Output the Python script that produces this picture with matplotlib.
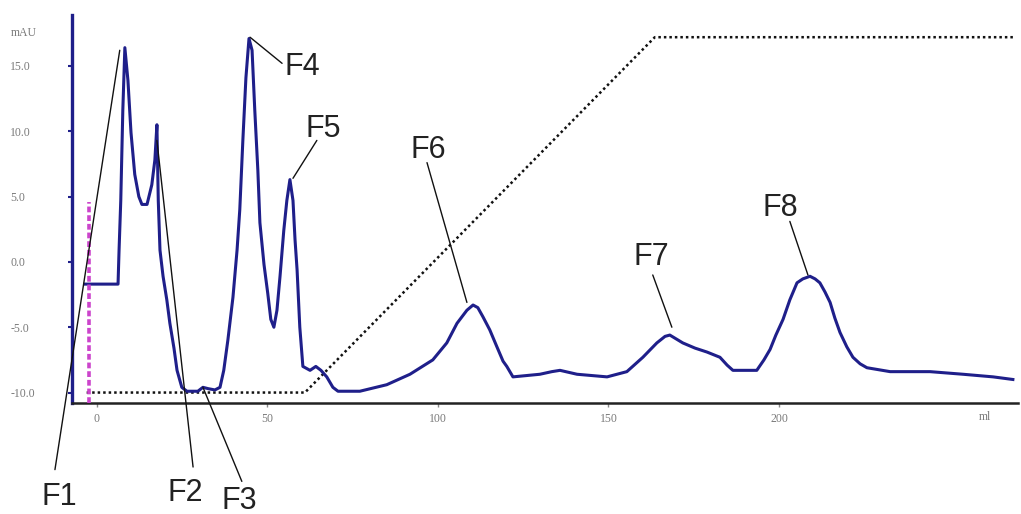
import matplotlib
matplotlib.use("Agg")
import matplotlib.pyplot as plt
import numpy as np

plt.rcParams['axes.unicode_minus'] = False

# ---- data ----
volume_ml = [-3.5, 6.2, 6.5, 7.0, 7.6, 8.2, 9.1, 10.0, 11.1, 12.3, 13.2, 14.7, 16.1, 17.0, 17.6,
             18.0, 18.5, 19.4, 20.5, 21.4, 22.6, 23.5, 24.9, 26.4, 29.6, 31.1, 32.6, 34.6, 36.1,
             37.2, 38.4, 39.9, 41.1, 41.9, 42.8, 43.7, 44.6, 45.5, 46.3, 47.2, 47.8, 49.0, 50.1,
             51.0, 51.9, 52.8, 53.7, 54.8, 55.7, 56.6, 57.5, 58.1, 58.7, 59.5, 60.4, 62.5, 64.2,
             65.7, 67.4, 69.2, 70.7, 77.1, 85.0, 91.8, 98.5, 102.6, 105.6, 108.5, 110.3, 111.7,
             113.2, 115.2, 117.3, 119.1, 120.2, 122.0, 129.9, 133.4, 135.8, 140.8, 149.6, 155.4,
             160.1, 164.2, 166.6, 168.0, 171.8, 175.4, 178.9, 182.7, 184.8, 186.5, 193.5, 195.6,
             197.4, 199.1, 201.2, 203.2, 205.3, 207.0, 209.1, 210.6, 212.0, 213.5, 215.0, 216.4,
             217.9, 219.9, 221.7, 223.8, 225.8, 232.6, 244.3, 254.0, 262.8, 268.6]
absorbance_mau = [-1.7, -1.7, 0.9, 4.7, 11.6, 16.4, 13.9, 9.9, 6.7, 5.0, 4.4, 4.4, 5.9, 7.8, 10.5,
                  4.7, 0.9, -1.1, -2.9, -4.7, -6.6, -8.3, -9.6, -9.9, -9.9, -9.6, -9.7, -9.8, -9.6,
                  -8.3, -6.0, -2.7, 0.9, 4.0, 9.3, 14.1, 17.1, 16.2, 11.6, 7.0, 3.0, -0.2, -2.4,
                  -4.4, -5.0, -3.7, -1.1, 2.4, 4.7, 6.3, 4.7, 1.7, -0.6, -5.0, -8.0, -8.3, -8.0,
                  -8.3, -8.8, -9.6, -9.9, -9.9, -9.4, -8.6, -7.5, -6.2, -4.7, -3.7, -3.3, -3.5,
                  -4.2, -5.2, -6.5, -7.6, -8.0, -8.8, -8.6, -8.4, -8.3, -8.6, -8.8, -8.4,
                  -7.3, -6.2, -5.7, -5.6, -6.2, -6.6, -6.9, -7.3, -7.9, -8.3, -8.3, -7.5,
                  -6.7, -5.6, -4.4, -2.9, -1.6, -1.3, -1.1, -1.3, -1.6, -2.3, -3.1, -4.3,
                  -5.4, -6.5, -7.3, -7.8, -8.1, -8.4, -8.4, -8.6, -8.8, -9.0]

gradient_ml = [-3.0, 61.0, 163.6, 269.2]
gradient_level = [-10.0, -10.0, 17.2, 17.2]

injection_ml = -2.3
injection_top = 4.6

y_ticks = [-10, -5, 0, 5, 10, 15]
y_tick_labels = ["-10.0", "-5.0", "0.0", "5.0", "10.0", "15.0"]
x_ticks = [0, 50, 100, 150, 200]
x_tick_labels = ["0", "50", "100", "150", "200"]

fractions = ["F1", "F2", "F3", "F4", "F5", "F6", "F7", "F8"]
# label centre, leader start, leader end (data units)
label_pos = [(-10.9, -18.0), (25.8, -17.7), (41.9, -18.3), (60.1, 14.9),
             (66.3, 10.2), (97.1, 8.6), (162.5, 0.4), (200.3, 4.1)]
leader_start = [(-12.3, -15.9), (28.2, -15.7), (42.5, -16.8), (54.3, 15.2),
                (64.5, 9.3), (96.8, 7.6), (163.0, -1.0), (203.2, 3.1)]
leader_end = [(6.7, 16.2), (17.6, 9.3), (31.1, -9.6), (44.9, 17.2),
              (57.5, 6.4), (108.5, -3.1), (168.6, -5.0), (208.5, -1.0)]

# ---- figure ----
W, H = 1021, 514
fig = plt.figure(figsize=(W / 100, H / 100), dpi=100)
fig.patch.set_facecolor('white')
ax = fig.add_axes([72 / W, 1 - 403 / H, (1018 - 72) / W, (403 - 15) / H])
ax.set_xlim(-7.3, 270.1)
ax.set_ylim(-10.8, 18.9)

navy = '#1f1f8a'
ax.plot(volume_ml, absorbance_mau, color=navy, lw=2.2, solid_joinstyle='round', zorder=4)
ax.plot(gradient_ml, gradient_level, color='#111111', lw=1.8, linestyle=(0, (1, 1.2)), zorder=3)
ax.plot([injection_ml, injection_ml], [ax.get_ylim()[0], injection_top], color='#cc44cc',
        lw=2.6, linestyle=(0, (1.6, 0.8)), zorder=5, clip_on=False)

for s in ['top', 'right']:
    ax.spines[s].set_visible(False)
ax.spines['left'].set_color(navy)
ax.spines['left'].set_linewidth(2.4)
ax.spines['bottom'].set_color('#222222')
ax.spines['bottom'].set_linewidth(1.8)

ax.set_yticks(y_ticks)
ax.set_yticklabels(y_tick_labels)
ax.set_xticks(x_ticks)
ax.set_xticklabels(x_tick_labels)
ax.tick_params(axis='y', length=3, width=1.5, color=navy, direction='out',
               labelsize=8.5, labelcolor='#7a7a7a', pad=41.5)
for lab in ax.get_yticklabels():
    lab.set_horizontalalignment('left')
    lab.set_fontfamily('Liberation Serif')
ax.tick_params(axis='x', length=3, width=1, color='#888888', direction='out',
               labelsize=8.5, labelcolor='#7a7a7a', pad=4)
for lab in ax.get_xticklabels():
    lab.set_fontfamily('Liberation Serif')

ax.text(-0.065, 0.953, "mAU", transform=ax.transAxes, fontsize=8.5, color='#7a7a7a',
        family='Liberation Serif', ha='left', va='center')
ax.text(260.4, -0.036, "ml", transform=ax.get_xaxis_transform(), fontsize=8.5,
        color='#7a7a7a', family='Liberation Serif', ha='center', va='center')

for name, lp, ls, le in zip(fractions, label_pos, leader_start, leader_end):
    ax.annotate('', xy=le, xytext=ls, xycoords='data', textcoords='data',
                arrowprops=dict(arrowstyle='-', color='#111111', lw=1.0,
                                shrinkA=0, shrinkB=0),
                annotation_clip=False, zorder=6)
    ax.text(lp[0], lp[1], name, fontsize=22, color='#222222', family='Liberation Sans',
            ha='center', va='center', clip_on=False)

fig.savefig('out.png', dpi=100, facecolor='white')
